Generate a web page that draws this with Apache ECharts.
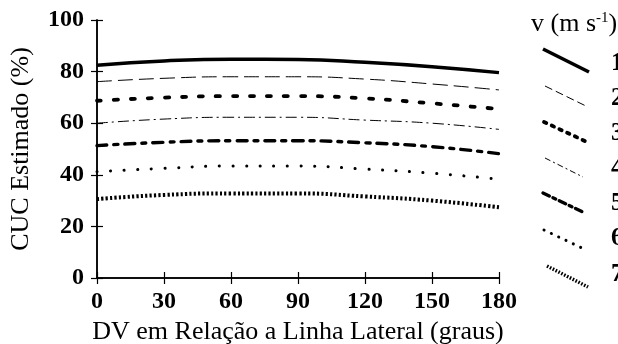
<!DOCTYPE html>
<html>
<head>
<meta charset="utf-8">
<script src="https://cdn.jsdelivr.net/npm/echarts@6/dist/echarts.min.js"></script>
<style>
  html, body { margin: 0; padding: 0; background: #fff; }
  #chart { width: 618px; height: 344px; }
</style>
</head>
<body>
<div id="chart"></div>
<script>
// DV em relação à linha lateral (graus)
var angulos = [0, 30, 60, 90, 120, 150, 180];
var xTicks = ["0", "30", "60", "90", "120", "150", "180"];
var yTicks = [0, 20, 40, 60, 80, 100];

// CUC estimado (%) para cada velocidade de vento (m s-1)
var v1 = [82.5, 84.1, 84.8, 84.7, 83.6, 81.9, 79.6];
var v2 = [76.1, 77.4, 78.0, 78.0, 77.1, 75.2, 72.9];
var v3 = [68.7, 69.9, 70.5, 70.5, 69.6, 67.7, 65.5];
var v4 = [60.0, 61.6, 62.3, 62.3, 61.2, 60.0, 57.6];
var v5 = [51.3, 52.6, 53.2, 53.2, 52.4, 50.9, 48.2];
var v6 = [41.2, 42.5, 43.4, 43.4, 42.2, 40.6, 38.3];
var v7 = [30.6, 32.2, 32.8, 32.8, 31.6, 30.0, 27.4];
var nomes = ["1", "2", "3", "4", "5", "6", "7"];

var series_v = [v1, v2, v3, v4, v5, v6, v7];

// estilo de cada linha (largura, tracejado no gráfico, tracejado na legenda)
var estilos = [
  { width: 3.5, type: "solid", cap: "butt", leg: null },
  { width: 1, type: [15, 6], cap: "butt", leg: [8, 4] },
  { width: 3.8, type: [4, 13], cap: "round", leg: [2.5, 6] },
  { width: 1, type: [11, 4, 2, 4], cap: "butt", leg: [6, 3, 2, 3] },
  { width: 3.4, type: [10, 7, 4, 7], cap: "round", leg: [7, 4, 3, 4] },
  { width: 3, type: [0.1, 13.5], cap: "round", leg: [0.1, 8] },
  { width: 4, type: [2.2, 2.2], cap: "butt", leg: [1.6, 1.6] },
];

var fonte = "Liberation Serif";

var series = series_v.map(function (vals, i) {
  return {
    name: nomes[i],
    type: "line",
    smooth: true,
    symbol: "none",
    silent: true,
    data: angulos.map(function (a, j) { return [a, vals[j]]; }),
    lineStyle: {
      color: "#000",
      width: estilos[i].width,
      type: estilos[i].type,
      cap: estilos[i].cap,
    },
  };
});

// legenda desenhada à mão: traços inclinados
var legenda = [];
var legLinhas = [
  [543, 49, 589, 72],
  [545, 86, 588, 107],
  [544, 122, 587, 142],
  [545, 158, 583, 177],
  [543, 193, 585, 213],
  [544, 230, 584, 249],
  [547, 266, 588, 287],
];
var legY = [64, 99, 134, 169, 204, 239, 275];
for (var i = 0; i < nomes.length; i++) {
  var s = legLinhas[i];
  legenda.push({
    type: "line",
    silent: true,
    shape: { x1: s[0], y1: s[1], x2: s[2], y2: s[3] },
    style: {
      stroke: "#000",
      lineWidth: i === 6 ? 3.5 : estilos[i].width,
      lineDash: estilos[i].leg,
      lineCap: estilos[i].cap,
    },
  });
  legenda.push({
    type: "text",
    silent: true,
    x: 611,
    y: legY[i],
    style: {
      text: nomes[i],
      font: "bold 25px '" + fonte + "'",
      fill: "#000",
      verticalAlign: "middle",
    },
  });
}
legenda.push({
  type: "text",
  silent: true,
  x: 531,
  y: 24,
  style: {
    text: "{a|v (m s}{b|-1}{a|)}",
    verticalAlign: "middle",
    rich: {
      a: { fontFamily: fonte, fontSize: 26, fill: "#000" },
      b: { fontFamily: fonte, fontSize: 15, fill: "#000", verticalAlign: "top", padding: [0, 0, 12, 0] },
    },
  },
});

var eixoLinha = { show: true, lineStyle: { color: "#000", width: 1.5 } };

var option = {
  backgroundColor: "#ffffff",
  animation: false,
  grid: { left: 97, right: 119, top: 20, bottom: 66, outerBoundsMode: "none" },
  xAxis: [
    {
      type: "value",
      min: 0,
      max: 180,
      interval: 30,
      name: "DV em Relação a Linha Lateral (graus)",
      nameLocation: "middle",
      nameGap: 39,
      nameTextStyle: { fontFamily: fonte, fontSize: 26, color: "#000" },
      axisLine: eixoLinha,
      axisTick: { show: true, length: 6, lineStyle: { color: "#000", width: 1.2 } },
      axisLabel: {
        fontFamily: fonte, fontSize: 24, fontWeight: "bold", color: "#000", margin: 12,
        formatter: function (v) { return xTicks[angulos.indexOf(v)] || v; },
      },
      splitLine: { show: false },
    },
    {
      type: "value",
      position: "top",
      min: 0,
      max: 180,
      interval: 30,
      axisLine: eixoLinha,
      axisTick: { show: true, length: 6, lineStyle: { color: "#000", width: 1.2 } },
      axisLabel: { show: false },
      splitLine: { show: false },
    },
  ],
  yAxis: [
    {
      type: "value",
      min: yTicks[0],
      max: yTicks[yTicks.length - 1],
      interval: 20,
      name: "CUC Estimado (%)",
      nameLocation: "middle",
      nameGap: 63,
      nameRotate: 90,
      nameTextStyle: { fontFamily: fonte, fontSize: 26, color: "#000" },
      axisLine: eixoLinha,
      axisTick: { show: true, length: 6, lineStyle: { color: "#000", width: 1.2 } },
      axisLabel: { fontFamily: fonte, fontSize: 24, fontWeight: "bold", color: "#000", margin: 13 },
      splitLine: { show: false },
    },
    {
      type: "value",
      position: "right",
      min: 0,
      max: 100,
      interval: 20,
      axisLine: eixoLinha,
      axisTick: { show: true, length: 6, lineStyle: { color: "#000", width: 1.2 } },
      axisLabel: { show: false },
      splitLine: { show: false },
    },
  ],
  series: series,
  graphic: legenda,
};

var myChart = echarts.init(document.getElementById("chart"));
myChart.setOption(option);
</script>
</body>
</html>
